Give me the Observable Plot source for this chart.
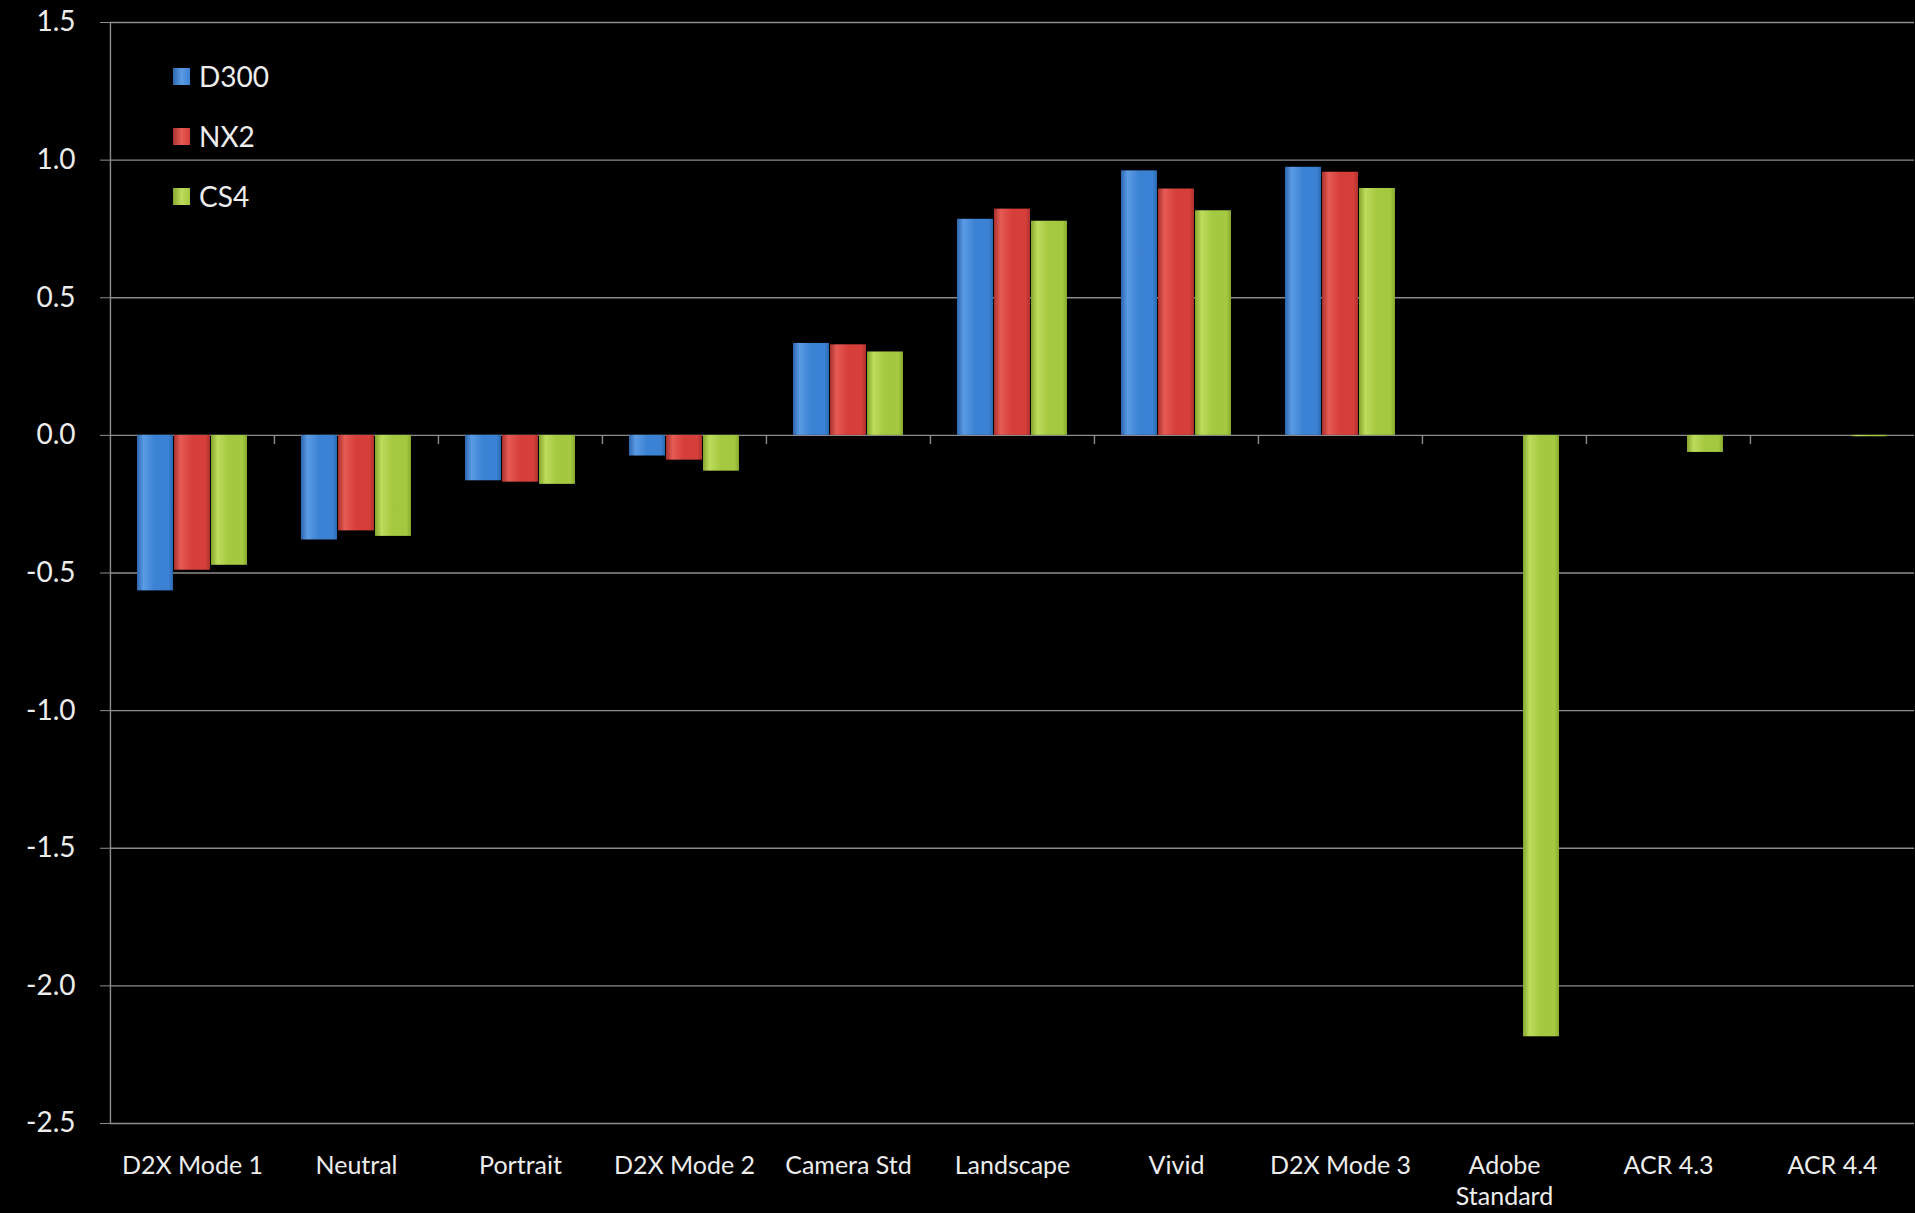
<!DOCTYPE html>
<html>
<head>
<meta charset="utf-8">
<script src="https://cdn.jsdelivr.net/npm/d3@7"></script>
<script src="https://cdn.jsdelivr.net/npm/@observablehq/plot@0.6"></script>
<style>
  html, body { margin: 0; padding: 0; background: #000; overflow: hidden; }
  #wrap { position: relative; width: 1915px; height: 1213px; }
  #legend { position: absolute; left: 173px; top: 46px; font-family: Lato, "Open Sans", sans-serif; font-size: 28px; color: #ededed; }
  #legend .row { display: flex; align-items: center; height: 60px; }
  #legend .sw { width: 17px; height: 17px; margin-right: 9px; }
</style>
</head>
<body>
<div id="wrap"><div id="legend"></div></div>
<script>
// ---- data ----
const categories = ["D2X Mode 1", "Neutral", "Portrait", "D2X Mode 2", "Camera Std", "Landscape", "Vivid", "D2X Mode 3", "Adobe Standard", "ACR 4.3", "ACR 4.4"];
const series = ["D300", "NX2", "CS4"];
const d300 = [-0.565, -0.38, -0.165, -0.075, 0.334, 0.785, 0.961, 0.974, null, null, null];
const nx2  = [-0.49, -0.347, -0.17, -0.09, 0.329, 0.822, 0.895, 0.956, null, null, null];
const cs4  = [-0.472, -0.367, -0.178, -0.13, 0.303, 0.778, 0.816, 0.897, -2.185, -0.062, -0.005];
const yTicks = [1.5, 1.0, 0.5, 0.0, -0.5, -1.0, -1.5, -2.0, -2.5];

const seriesValues = {D300: d300, NX2: nx2, CS4: cs4};
const rows = [];
categories.forEach((c, i) => series.forEach(s => {
  const v = seriesValues[s][i];
  if (v != null) rows.push({category: c, series: s, value: v});
}));

// colours (gradient stops: dark edge, light, base, dark edge)
const colors = {
  D300: ["#2b66ad", "#5a9be4", "#3b82d4", "#2c68b0"],
  NX2:  ["#a8302c", "#e65b55", "#d63e39", "#ad322e"],
  CS4:  ["#84a42d", "#bddc5c", "#a4c83f", "#86a72f"]
};
const gradId = s => "grad-" + s;

// layout constants
const W = 1915, H = 1213, ML = 108, MR = 0, MT = 22, MB = 90;
const padIn = 0.03, padOut = 0.73;
const facetStep = (W - ML - MR) / categories.length;
const innerStep = facetStep / (series.length - padIn + 2 * padOut);
const firstCenter = padOut * innerStep + (1 - padIn) * innerStep / 2;

const grid = "#8c8c8c";

const chart = Plot.plot({
  width: W, height: H,
  marginLeft: ML, marginRight: MR, marginTop: MT, marginBottom: MB,
  style: {background: "#000", color: "#ededed", fontFamily: "Lato, 'Open Sans', sans-serif"},
  fx: {domain: categories, padding: 0},
  x: {domain: series, paddingInner: padIn, paddingOuter: padOut, axis: null},
  y: {domain: [-2.5, 1.5]},
  color: {domain: series, range: series.map(s => `url(#${gradId(s)})`)},
  marks: [
    Plot.gridY(yTicks, {stroke: grid, strokeOpacity: 1, strokeWidth: 1.4}),
    Plot.axisY(yTicks, {tickSize: 10, tickPadding: 25, fontSize: 28, stroke: grid, tickFormat: d => d.toFixed(1), label: null}),
    Plot.ruleX([categories[0]], {fx: d => d, x: () => series[0], dx: -firstCenter, y1: -2.5, y2: 1.5, stroke: grid, strokeWidth: 1.4}),
    Plot.ruleX(categories.slice(1), {fx: d => d, x: () => series[0], dx: -firstCenter, y1: 0, y2: -0.033, stroke: grid, strokeWidth: 1.4}),
    Plot.barY(rows, {fx: "category", x: "series", y: "value", fill: "series"}),
    Plot.axisFx({anchor: "bottom", tickSize: 0, tickPadding: 28, fontSize: 25, lineHeight: 1.25, label: null,
      tickFormat: d => d === "Adobe Standard" ? "Adobe\nStandard" : d})
  ]
});

// gradient definitions
const defs = d3.select(chart).insert("defs", ":first-child");
series.forEach(s => {
  const g = defs.append("linearGradient").attr("id", gradId(s))
    .attr("x1", 0).attr("x2", 1).attr("y1", 0).attr("y2", 0);
  const c = colors[s];
  [[0, c[0]], [0.18, c[1]], [0.5, c[2]], [0.88, c[2]], [1, c[3]]].forEach(([o, col]) =>
    g.append("stop").attr("offset", o).attr("stop-color", col));
});

document.getElementById("wrap").prepend(chart);

// legend
const leg = d3.select("#legend");
series.forEach(s => {
  const r = leg.append("div").attr("class", "row");
  r.append("div").attr("class", "sw").style("background", `linear-gradient(90deg, ${colors[s][0]}, ${colors[s][1]}, ${colors[s][2]})`);
  r.append("span").text(s);
});
</script>
</body>
</html>
